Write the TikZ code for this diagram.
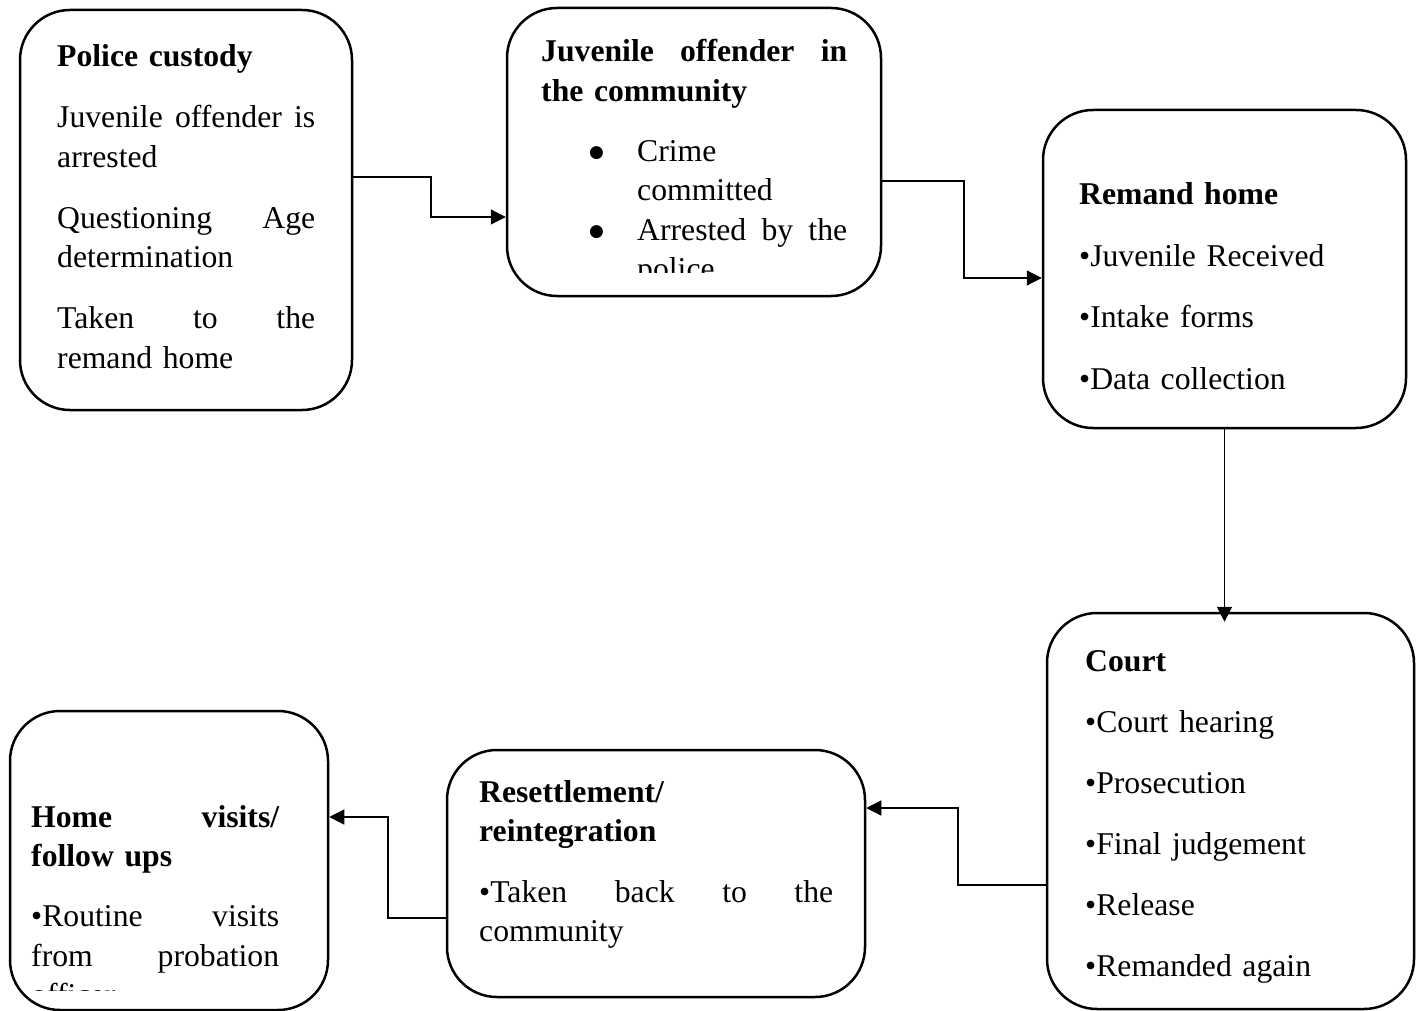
\documentclass[tikz,border=0pt]{standalone}
\usepackage{fontspec}
\setmainfont{Liberation Serif}
\newfontfamily\dotfont{DejaVu Sans}
\usetikzlibrary{arrows.meta}
\newcommand\bodyfont{\fontsize{31.7pt}{39.5pt}\selectfont}
\newcommand\jline[2]{\leavevmode\hbox to #1{#2}}
\newcommand\bigdot{\makebox[96pt][l]{\hspace{48pt}\raisebox{4pt}{\dotfont\fontsize{17pt}{17pt}\selectfont●}}}
\begin{document}
\begin{tikzpicture}[
            x=1pt, y=-1pt,
            box/.style={draw, line width=2.5pt, rounded corners=50pt, inner sep=0pt},
            txt/.style={anchor=base west, inner sep=0pt, align=left, font=\bodyfont},
            conn/.style={line width=1.2pt, -{Triangle[length=15pt,width=15pt]}}
        ]
        \useasboundingbox (0,0) rectangle (1416,1011);

        \node[box, minimum width=332pt, minimum height=400pt] (police) at (186,210) {};
        \node[box, minimum width=374pt, minimum height=288pt] (juvenile) at (694,152) {};
        \node[box, minimum width=363pt, minimum height=318pt] (remand) at (1224.5,269) {};
        \node[box, minimum width=367pt, minimum height=396pt] (court) at (1230.5,811) {};
        \node[box, minimum width=418pt, minimum height=247pt] (resettle) at (656,873.5) {};
        \node[box, minimum width=318pt, minimum height=299pt] (home) at (169,860.5) {};

        \node[txt, text width=258pt] (policetxt) at (57,67) {%
            \textbf{Police custody}\\[21.5pt]
            \jline{258pt}{Juvenile\hfill offender\hfill is}\\
            arrested\\[21.5pt]
            \jline{258pt}{Questioning\hfill Age}\\
            determination\\[21.5pt]
            \jline{258pt}{Taken\hfill to\hfill the}\\
            remand home};

        \begin{scope}
            \clip (507,8) rectangle (881,272);
            \node[txt, text width=306pt] (juveniletxt) at (541,62) {%
                \textbf{\jline{306pt}{Juvenile\hfill offender\hfill in}}\\
                \textbf{the community}\\[20.5pt]
                \bigdot Crime\\
                \hspace*{96pt}committed\\
                \bigdot\jline{210pt}{Arrested\hfill by\hfill the}\\
                \hspace*{96pt}police};
        \end{scope}

        \node[txt, text width=300pt] (remandtxt) at (1079,205) {%
            \textbf{Remand home}\\[22pt]
            •Juvenile Received\\[22pt]
            •Intake forms\\[22pt]
            •Data collection};

        \node[txt, text width=300pt] (courttxt) at (1085,671) {%
            \textbf{Court}\\[21.5pt]
            •Court hearing\\[21.5pt]
            •Prosecution\\[21.5pt]
            •Final judgement\\[21.5pt]
            •Release\\[21.5pt]
            •Remanded again};

        \node[txt, text width=354pt] (resettletxt) at (479,802) {%
            \textbf{Resettlement/}\\
            \textbf{reintegration}\\[21pt]
            \jline{354pt}{•Taken\hfill back\hfill to\hfill the}\\
            community};

        \begin{scope}
            \clip (10,711) rectangle (328,990);
            \node[txt, text width=248pt] (hometxt) at (31,827) {%
                \textbf{\jline{248pt}{Home\hfill visits/}}\\
                \textbf{follow ups}\\[20.5pt]
                \jline{248pt}{•Routine\hfill visits}\\
                \jline{248pt}{from\hfill probation}\\
                officer};
        \end{scope}

        \draw[conn] ([yshift=33pt]police.east) -| (431,217) -- ([yshift=-65pt]juvenile.west);
        \draw[conn] ([yshift=-29pt]juvenile.east) -| (964,278) -- ([yshift=-9pt]remand.west);
        \draw[conn] (remand.south) -- ([yshift=-10pt]remand.south |- court.north);
        \draw[conn] ([yshift=-74pt]court.west) -| (958,808) -- ([yshift=65.5pt]resettle.east);
        \draw[conn] ([yshift=-44.5pt]resettle.west) -| (388,817) -- ([yshift=43.5pt]home.east);
    \end{tikzpicture}
\end{document}
